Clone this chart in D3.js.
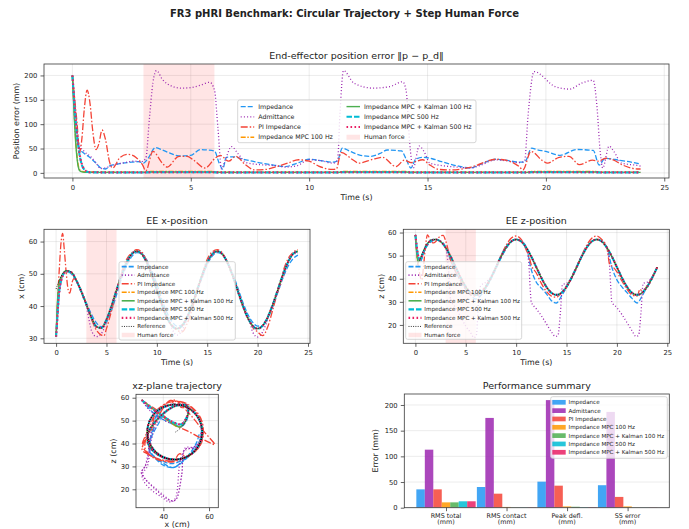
<!DOCTYPE html>
<html>
<head>
<meta charset="utf-8">
<script src="https://cdn.jsdelivr.net/npm/d3@7"></script>
<style>
  body { margin: 0; background: #fff; }
  text { font-family: "DejaVu Sans", sans-serif; fill: #222; }
</style>
</head>
<body>
<svg id="fig" width="689" height="529"></svg>
<script>
// ---------------- data ----------------
const controllers = ['Impedance', 'Admittance', 'PI Impedance', 'Impedance MPC 100 Hz',
  'Impedance MPC + Kalman 100 Hz', 'Impedance MPC 500 Hz', 'Impedance MPC + Kalman 500 Hz'];
const colors = ['#2196F3', '#9C27B0', '#F44336', '#FF9800', '#4CAF50', '#00BCD4', '#E91E63'];
const forceWindow = [3, 6];

// position error ||p - p_d|| (mm): [t, err]
const errImpedance = [[0,200],[0.05,150],[0.1,100],[0.2,65],[0.3,50],[0.5,40],[0.7,33],[1.0,20],[1.2,10],[1.4,8],[1.6,15],[2.0,19],[2.5,22],[2.8,23],[3.0,20],[3.2,30],[3.5,52],[3.8,47],[4.1,41],[4.5,35],[5.0,36],[5.4,48],[5.7,47],[6.0,45],[6.2,20],[6.35,8],[6.5,32],[6.8,33],[7.2,28],[7.6,24],[8.0,20],[8.5,16],[9.0,13],[9.5,20],[10.0,28],[10.5,25],[11.0,22],[11.2,25],[11.4,51],[11.7,45],[12.1,37],[12.6,34],[13.0,40],[13.3,47],[13.9,45],[14.1,28],[14.3,10],[14.5,28],[14.8,32],[15.2,29],[15.6,23],[16.2,15],[16.8,10],[17.2,17],[17.9,28],[18.3,26],[18.9,22],[19.1,22],[19.4,51],[19.6,48],[20.0,44],[20.6,36],[21.3,48],[22.0,46],[22.25,16],[22.5,30],[23.1,26],[23.6,22],[24,18]];
const errAdmittance = [[0,200],[0.1,130],[0.2,82],[0.3,58],[0.5,44],[0.8,32],[1.0,20],[1.2,9],[1.5,12],[1.8,17],[2.2,21],[2.6,24],[2.9,23],[3.1,30],[3.25,110],[3.4,185],[3.55,210],[3.8,192],[4.2,178],[4.6,174],[5.0,175],[5.4,180],[5.8,186],[6.0,170],[6.15,90],[6.3,8],[6.45,25],[6.72,54],[7.0,39],[7.35,21],[7.9,17],[8.5,15],[9.0,12],[9.5,15],[10.0,27],[10.5,25],[11.0,20],[11.2,26],[11.3,120],[11.45,210],[11.9,184],[12.7,174],[13.4,177],[13.95,187],[14.1,168],[14.25,60],[14.4,10],[14.65,55],[14.85,44],[15.1,20],[15.6,15],[16.2,12],[16.8,10],[17.2,15],[17.9,27],[18.3,25],[18.9,21],[19.1,25],[19.25,120],[19.5,208],[20.4,177],[21.0,172],[21.5,184],[22.0,190],[22.15,140],[22.3,40],[22.4,10],[22.67,55],[22.87,44],[23.2,20],[23.9,15],[24,14]];
const errPI = [[0,200],[0.1,150],[0.2,100],[0.3,42],[0.4,70],[0.5,130],[0.62,170],[0.75,140],[0.85,90],[1.0,48],[1.12,60],[1.25,88],[1.4,68],[1.57,22],[1.7,10],[2.0,31],[2.35,38],[2.7,31],[2.97,16],[3.1,4],[3.4,44],[3.8,20],[4.0,12],[4.5,34],[4.85,34],[5.1,27],[5.6,10],[6.05,31],[6.25,36],[6.6,24],[6.9,34],[7.3,17],[7.7,6],[8.15,7],[8.7,14],[9.1,20],[9.55,27],[10.0,24],[10.4,14],[11.0,7],[11.15,8],[11.35,42],[11.84,27],[12.1,20],[12.7,28],[13.1,32],[13.67,13],[14.02,26],[14.3,21],[14.8,27],[15.07,17],[15.5,7],[16.0,6],[16.85,12],[17.89,28],[18.3,26],[18.87,13],[19.03,6],[19.37,44],[19.86,25],[20.07,20],[20.56,32],[20.98,34],[21.41,17],[21.97,26],[22.2,24],[22.53,30],[22.87,26],[23.2,17],[23.94,8],[24,8]];
const errMPC100 = [[0,200],[0.05,150],[0.1,100],[0.15,60],[0.2,32],[0.25,15],[0.3,7],[0.4,3],[0.6,1.8],[3.0,1.5],[3.3,2.8],[5.9,2.8],[6.2,1.5],[11.2,1.5],[11.4,2.8],[14.1,2.8],[14.3,1.5],[19.2,1.5],[19.4,2.8],[22.1,2.8],[22.3,1.5],[24,1.5]];
const errK100 = [[0,200],[0.05,145],[0.1,95],[0.15,55],[0.2,28],[0.25,12],[0.3,5],[0.4,2],[0.6,1],[3.0,1],[3.3,1.8],[5.9,1.8],[6.2,1],[11.2,1],[11.4,1.8],[14.1,1.8],[14.3,1],[19.2,1],[19.4,1.8],[22.1,1.8],[22.3,1],[24,1]];
const errMPC500 = [[0,200],[0.05,165],[0.1,130],[0.2,75],[0.3,38],[0.4,16],[0.5,7],[0.6,3],[0.8,1],[3.0,0.8],[3.3,1.3],[5.9,1.3],[6.2,0.8],[11.2,0.8],[11.4,1.3],[14.1,1.3],[14.3,0.8],[19.2,0.8],[19.4,1.3],[22.1,1.3],[22.3,0.8],[24,0.8]];
const errK500 = [[0,200],[0.05,168],[0.1,135],[0.2,80],[0.3,40],[0.4,18],[0.5,8],[0.6,3.5],[0.8,1.2],[3.0,1],[3.3,1.4],[5.9,1.4],[6.2,1],[11.2,1],[11.4,1.4],[14.1,1.4],[14.3,1],[19.2,1],[19.4,1.4],[22.1,1.4],[22.3,1],[24,1]];

// end-effector position (cm): [t, x, z]
const posImpedance = [[0,30.5,59],[0.1,35,54],[0.2,40,50.5],[0.3,44,48.5],[0.5,48,47.5],[0.75,50.2,50],[1,50.8,53],[1.5,50.0,55.8],[2,47.8,56.8],[2.5,44.5,56.3],[3,41,53.8],[3.5,37.5,48],[4,34.8,43],[4.5,33.6,39],[5,35,35.5],[5.5,38.6,32.8],[6,43.5,31.2],[6.5,48.5,32.8],[7,52.5,35.8],[7.5,55.3,39.8],[8,56.6,44.3],[8.5,56.3,49],[9,54.3,53],[9.5,51,55.8],[10,46.8,57],[10.5,42,56.3],[11,38,53.8],[11.5,35.2,44],[12,33.8,38.5],[12.5,34.2,36],[13,36.5,33.5],[13.5,40,30.5],[14,44.5,29.5],[14.5,49,32.5],[15,52.8,36.3],[15.5,55.5,40.2],[16,56.6,44.8],[16.5,56,49.4],[17,53.8,53.3],[17.5,50.3,56],[18,46,57],[18.5,41.5,56.2],[19,37.6,53.6],[19.5,35,45],[20,33.8,39.5],[20.5,34,36.5],[21,36.2,34],[21.5,39.8,31.5],[22,44.2,29.5],[22.5,48.6,32.5],[23,52.2,36.5],[23.5,54.6,40.5],[24,55.8,44.5]];
const posAdmittance = [[0,30.5,59],[0.1,34,54.5],[0.2,39,51],[0.3,43,49],[0.5,47.5,48.5],[0.75,50,51],[1,51,53.5],[1.5,50.5,56.2],[2,48,57],[2.5,44.5,56.1],[3,40,53.5],[3.25,36,46],[3.5,32.5,31],[4,30.5,27.5],[4.5,31.5,23.5],[5,35,19.5],[5.5,39.5,16.5],[5.8,42.5,14.5],[6.05,45,15.5],[6.3,47.5,33],[6.5,49.5,37],[7,53.5,38.5],[7.5,56,41],[8,57,45],[8.5,56.2,49.6],[9,53.6,53.5],[9.5,49.7,56.1],[10,45,57],[10.5,40.4,56.1],[11,36.5,53.5],[11.25,35,47],[11.5,33,30],[12,31,27],[12.5,32.5,24],[13,36,20.5],[13.5,40,17],[13.9,43.5,15],[14.15,45.5,15.5],[14.4,48,26],[14.6,49.5,37.5],[15,53.5,38],[15.5,56.1,40.6],[16,57,45],[16.5,56.1,49.6],[17,53.5,53.5],[17.5,49.6,56.1],[18,45,57],[18.5,40.4,56.1],[19,36.5,53.5],[19.25,35,47],[19.5,32,30],[20,30.4,27.5],[20.5,32,24.5],[21,35.8,21],[21.5,40,17.5],[21.9,43.5,15],[22.15,45.5,15.5],[22.4,48,26],[22.6,49.5,38],[23,53.4,38.5],[23.5,56,41],[24,56.5,45]];
const posPI = [[0,30.5,59],[0.1,38,54],[0.2,45,48],[0.3,50.5,45.5],[0.5,60,40.5],[0.65,62.5,39.5],[0.8,58,45],[1,50.5,54],[1.2,45,59],[1.35,44,58],[1.6,47.5,56],[1.8,48.6,55.5],[2,47.8,56],[2.3,46.2,57.8],[2.5,45,58.5],[2.75,43,58.8],[3,40.5,56.5],[3.5,36,48],[4,32.5,43],[4.5,31,39],[4.75,30.8,37],[5,33,35.5],[5.5,38.5,33],[6,44.8,32.5],[6.5,50.5,34.5],[7,54.5,37],[7.5,56.5,40.5],[8,57.5,45],[8.5,56.8,50],[9,54,54.5],[9.5,50,57.5],[10,45.2,58.5],[10.5,40.5,57],[11,36.5,52.5],[11.25,35,50],[11.5,34,46],[12,32.5,42.5],[12.5,32,38],[13,34.5,34.5],[13.5,39,32.5],[14,44.5,32],[14.5,49.8,34],[15,54.5,37],[15.5,56.8,40.5],[16,57.5,45],[16.5,56.5,50],[17,53.5,54.5],[17.5,49.5,57.5],[18,45,58.5],[18.5,40.3,57],[19,36.4,53.5],[19.3,35,46],[19.5,33.5,45.5],[20,32,43],[20.5,30.8,39],[21,33.5,35.5],[21.5,38.8,33],[22,44.5,32.5],[22.3,47,35.5],[22.5,50.2,34.5],[23,54.5,37],[23.5,56.6,40.5],[24,57.5,45]];
const posMPC100 = [[0,30.5,59],[0.1,38,53],[0.2,43.5,49],[0.3,46.5,47.3],[0.5,48.8,48.5],[0.75,50.2,51.2],[1,50.9,53.6],[1.5,50.5,56.4],[2,48,57],[2.5,44.5,56.1],[3,40.5,53.5],[3.5,36.5,49.6],[4,33.6,45],[4.5,33.2,40.4],[5,35.8,36.5],[5.5,40,33.9],[6,45,33],[6.5,49.6,33.9],[7,53.5,36.5],[7.5,56.1,40.4],[8,57,45],[8.5,56.1,49.6],[9,53.5,53.5],[9.5,49.6,56.1],[10,45,57],[10.5,40.4,56.1],[11,36.5,53.5],[11.5,33.9,49.6],[12,33,45],[12.5,33.9,40.4],[13,36.5,36.5],[13.5,40.4,33.9],[14,45,33],[14.5,49.6,33.9],[15,53.5,36.5],[15.5,56.1,40.4],[16,57,45],[16.5,56.1,49.6],[17,53.5,53.5],[17.5,49.6,56.1],[18,45,57],[18.5,40.4,56.1],[19,36.5,53.5],[19.5,33.9,49.6],[20,33,45],[20.5,33.9,40.4],[21,36.5,36.5],[21.5,40.4,33.9],[22,45,33],[22.5,49.6,33.9],[23,53.5,36.5],[23.5,56.1,40.4],[24,57,45]];
const posK100 = [[0,30.5,59],[0.1,39,52.5],[0.2,44.5,48.5],[0.3,47,47.2],[0.5,49,48.7],[0.75,50.4,51.4],[1,51,53.8],[1.5,50.5,56.5],[2,48,57],[2.5,44.5,56.1],[3,40.5,53.5],[3.5,36.5,49.6],[4,33.6,45],[4.5,33.2,40.4],[5,35.8,36.5],[5.5,40,33.9],[6,45,33],[6.5,49.6,33.9],[7,53.5,36.5],[7.5,56.1,40.4],[8,57,45],[8.5,56.1,49.6],[9,53.5,53.5],[9.5,49.6,56.1],[10,45,57],[10.5,40.4,56.1],[11,36.5,53.5],[11.5,33.9,49.6],[12,33,45],[12.5,33.9,40.4],[13,36.5,36.5],[13.5,40.4,33.9],[14,45,33],[14.5,49.6,33.9],[15,53.5,36.5],[15.5,56.1,40.4],[16,57,45],[16.5,56.1,49.6],[17,53.5,53.5],[17.5,49.6,56.1],[18,45,57],[18.5,40.4,56.1],[19,36.5,53.5],[19.5,33.9,49.6],[20,33,45],[20.5,33.9,40.4],[21,36.5,36.5],[21.5,40.4,33.9],[22,45,33],[22.5,49.6,33.9],[23,53.5,36.5],[23.5,56.1,40.4],[24,57,45]];
const posMPC500 = [[0,30.5,59],[0.1,35.5,55],[0.2,40.5,51.5],[0.3,44.2,49.3],[0.5,48,48.4],[0.75,50,51],[1,50.8,53.5],[1.5,50.5,56.4],[2,48,57],[2.5,44.5,56.1],[3,40.5,53.5],[3.5,36.5,49.6],[4,33.6,45],[4.5,33.2,40.4],[5,35.8,36.5],[5.5,40,33.9],[6,45,33],[6.5,49.6,33.9],[7,53.5,36.5],[7.5,56.1,40.4],[8,57,45],[8.5,56.1,49.6],[9,53.5,53.5],[9.5,49.6,56.1],[10,45,57],[10.5,40.4,56.1],[11,36.5,53.5],[11.5,33.9,49.6],[12,33,45],[12.5,33.9,40.4],[13,36.5,36.5],[13.5,40.4,33.9],[14,45,33],[14.5,49.6,33.9],[15,53.5,36.5],[15.5,56.1,40.4],[16,57,45],[16.5,56.1,49.6],[17,53.5,53.5],[17.5,49.6,56.1],[18,45,57],[18.5,40.4,56.1],[19,36.5,53.5],[19.5,33.9,49.6],[20,33,45],[20.5,33.9,40.4],[21,36.5,36.5],[21.5,40.4,33.9],[22,45,33],[22.5,49.6,33.9],[23,53.5,36.5],[23.5,56.1,40.4],[24,57,45]];
const posK500 = [[0,30.5,59],[0.1,35,55.3],[0.2,40,51.8],[0.3,44,49.5],[0.5,47.8,48.5],[0.75,50,51],[1,50.8,53.5],[1.5,50.5,56.4],[2,48,57],[2.5,44.5,56.1],[3,40.5,53.5],[3.5,36.5,49.6],[4,33.6,45],[4.5,33.2,40.4],[5,35.8,36.5],[5.5,40,33.9],[6,45,33],[6.5,49.6,33.9],[7,53.5,36.5],[7.5,56.1,40.4],[8,57,45],[8.5,56.1,49.6],[9,53.5,53.5],[9.5,49.6,56.1],[10,45,57],[10.5,40.4,56.1],[11,36.5,53.5],[11.5,33.9,49.6],[12,33,45],[12.5,33.9,40.4],[13,36.5,36.5],[13.5,40.4,33.9],[14,45,33],[14.5,49.6,33.9],[15,53.5,36.5],[15.5,56.1,40.4],[16,57,45],[16.5,56.1,49.6],[17,53.5,53.5],[17.5,49.6,56.1],[18,45,57],[18.5,40.4,56.1],[19,36.5,53.5],[19.5,33.9,49.6],[20,33,45],[20.5,33.9,40.4],[21,36.5,36.5],[21.5,40.4,33.9],[22,45,33],[22.5,49.6,33.9],[23,53.5,36.5],[23.5,56.1,40.4],[24,57,45]];
const posReference = [[0,45.3,45],[0.1,46.2,45.6],[0.2,47,46.3],[0.3,47.8,47],[0.5,49.2,48.8],[0.75,50.4,51.5],[1,51,53.8],[1.5,50.5,56.5],[2,48,57],[2.5,44.5,56.1],[3,40.5,53.5],[3.5,36.5,49.6],[4,33.6,45],[4.5,33.2,40.4],[5,35.8,36.5],[5.5,40,33.9],[6,45,33],[6.5,49.6,33.9],[7,53.5,36.5],[7.5,56.1,40.4],[8,57,45],[8.5,56.1,49.6],[9,53.5,53.5],[9.5,49.6,56.1],[10,45,57],[10.5,40.4,56.1],[11,36.5,53.5],[11.5,33.9,49.6],[12,33,45],[12.5,33.9,40.4],[13,36.5,36.5],[13.5,40.4,33.9],[14,45,33],[14.5,49.6,33.9],[15,53.5,36.5],[15.5,56.1,40.4],[16,57,45],[16.5,56.1,49.6],[17,53.5,53.5],[17.5,49.6,56.1],[18,45,57],[18.5,40.4,56.1],[19,36.5,53.5],[19.5,33.9,49.6],[20,33,45],[20.5,33.9,40.4],[21,36.5,36.5],[21.5,40.4,33.9],[22,45,33],[22.5,49.6,33.9],[23,53.5,36.5],[23.5,56.1,40.4],[24,57,45]];

// performance summary (mm), one array per controller, in metric order
const metrics = ['RMS total\n(mm)', 'RMS contact\n(mm)', 'Peak defl.\n(mm)', 'SS error\n(mm)'];
const barImpedance = [35.7, 40.3, 50.7, 43.8];
const barAdmittance = [113, 174.8, 209.5, 186.5];
const barPI = [35.7, 27.3, 42.9, 21];
const barMPC100 = [10.4, 1.5, 2.5, 2.5];
const barK100 = [10.4, 0.5, 1.8, 0.3];
const barMPC500 = [12.5, 0.5, 0.8, 0.3];
const barK500 = [12.5, 0.5, 0.8, 0.3];

// ---------------- styles ----------------
const dashes = ['5,2', '1,2.2', '7,2,1.5,2', '5,1.6,1.5,1.6', null, '5.5,2', '1.6,2.4'];
const widths = [1.3, 1.3, 1.3, 1.4, 1.4, 2.1, 2.1];
const errSeries = [errImpedance, errAdmittance, errPI, errMPC100, errK100, errMPC500, errK500];
const posSeries = [posImpedance, posAdmittance, posPI, posMPC100, posK100, posMPC500, posK500];
const barSeries = [barImpedance, barAdmittance, barPI, barMPC100, barK100, barMPC500, barK500];

const svg = d3.select('#fig');
let clipCount = 0;

function makePanel(o) {
  const x = d3.scaleLinear().domain(o.xd).range([o.l, o.r]);
  const y = d3.scaleLinear().domain(o.yd).range([o.b, o.t]);
  const g = svg.append('g');
  const clipId = 'clip' + (clipCount++);
  g.append('clipPath').attr('id', clipId).append('rect')
    .attr('x', o.l).attr('y', o.t).attr('width', o.r - o.l).attr('height', o.b - o.t);
  const grid = g.append('g');
  if (o.gridX !== false) {
    o.xticks.forEach(v => grid.append('line').attr('x1', x(v)).attr('x2', x(v)).attr('y1', o.t).attr('y2', o.b));
  }
  o.yticks.forEach(v => grid.append('line').attr('x1', o.l).attr('x2', o.r).attr('y1', y(v)).attr('y2', y(v)));
  grid.selectAll('line').attr('stroke', '#b0b0b0').attr('stroke-opacity', 0.3).attr('stroke-width', 0.8);
  const plot = g.append('g').attr('clip-path', `url(#${clipId})`);
  return { x, y, g, plot, o };
}

function finishPanel(p) {
  const { x, y, g, o } = p;
  g.append('rect').attr('x', o.l).attr('y', o.t).attr('width', o.r - o.l).attr('height', o.b - o.t)
    .attr('fill', 'none').attr('stroke', '#3a3a3a').attr('stroke-width', 0.8);
  const xa = g.append('g').attr('transform', `translate(0,${o.b})`)
    .call(d3.axisBottom(x).tickValues(o.xticks).tickSize(3.5).tickPadding(3.2).tickFormat(o.xfmt || d3.format('d')));
  const ya = g.append('g').attr('transform', `translate(${o.l},0)`)
    .call(d3.axisLeft(y).tickValues(o.yticks).tickSize(3.5).tickPadding(3.2).tickFormat(d3.format('d')));
  [xa, ya].forEach(a => {
    a.select('.domain').remove();
    a.selectAll('line').attr('stroke', '#3a3a3a').attr('stroke-width', 0.8);
    a.selectAll('text').attr('font-size', 6.8).attr('font-family', '"DejaVu Sans", sans-serif').attr('fill', '#222');
  });
  g.append('text').attr('x', (o.l + o.r) / 2).attr('y', o.t - 5).attr('text-anchor', 'middle')
    .attr('font-size', 9.5).text(o.title);
  if (o.xlabel) {
    g.append('text').attr('x', (o.l + o.r) / 2).attr('y', o.xlabelY || o.b + 22).attr('text-anchor', 'middle')
      .attr('font-size', 7.9).text(o.xlabel);
  }
  g.append('text').attr('transform', `translate(${o.ylabelX},${(o.t + o.b) / 2}) rotate(-90)`)
    .attr('text-anchor', 'middle').attr('dy', '0.35em').attr('font-size', 7.9).text(o.ylabel);
  return xa;
}

function styleLine(sel, i) {
  sel.attr('fill', 'none').attr('stroke', colors[i]).attr('stroke-width', widths[i])
    .attr('stroke-dasharray', dashes[i]).attr('stroke-linejoin', 'round');
}

function drawLegend(items, o) {
  const lg = svg.append('g');
  lg.append('rect').attr('x', o.x).attr('y', o.y).attr('width', o.w).attr('height', o.h).attr('rx', 2)
    .attr('fill', '#fff').attr('fill-opacity', 0.8).attr('stroke', '#cccccc').attr('stroke-width', 0.8);
  items.forEach((it, i) => {
    const col = Math.floor(i / o.rows), row = i % o.rows;
    const hx = o.colX[col], cy = o.firstY + row * o.rowH;
    if (it.patch) {
      lg.append('rect').attr('x', hx).attr('y', cy - o.patchH / 2).attr('width', o.handleLen).attr('height', o.patchH)
        .attr('fill', it.color).attr('fill-opacity', it.opacity);
    } else {
      lg.append('line').attr('x1', hx).attr('x2', hx + o.handleLen).attr('y1', cy).attr('y2', cy)
        .attr('stroke', it.color).attr('stroke-width', it.width).attr('stroke-dasharray', it.dash);
    }
    lg.append('text').attr('x', hx + o.handleLen + o.gap).attr('y', cy).attr('dy', '0.35em')
      .attr('font-size', o.fs).text(it.label);
  });
}

const lineItems = controllers.map((c, i) => ({ label: c, color: colors[i], dash: dashes[i], width: widths[i] }));
const forceItem = { label: 'Human force', patch: true, color: '#ff0000', opacity: 0.1 };
const refItem = { label: 'Reference', color: '#000', dash: '1,1.3', width: 0.8 };

// suptitle
svg.append('text').attr('x', 344.5).attr('y', 17).attr('text-anchor', 'middle')
  .attr('font-size', 10).attr('font-weight', 'bold').text('FR3 pHRI Benchmark: Circular Trajectory + Step Human Force');

// ---------------- panel 1: position error ----------------
const p1 = makePanel({ l: 44, r: 669, t: 64, b: 178, xd: [-1.2, 25.2], yd: [-10.5, 223.5],
  xticks: [0, 5, 10, 15, 20, 25], yticks: [0, 50, 100, 150, 200],
  title: 'End-effector position error \u2016p \u2212 p_d\u2016', xlabel: 'Time (s)', ylabel: 'Position error (mm)', ylabelX: 16.5 });
p1.plot.append('rect').attr('x', p1.x(forceWindow[0])).attr('width', p1.x(forceWindow[1]) - p1.x(forceWindow[0]))
  .attr('y', p1.o.t).attr('height', p1.o.b - p1.o.t).attr('fill', '#ff0000').attr('fill-opacity', 0.1);
const errLine = d3.line().x(d => p1.x(d[0])).y(d => p1.y(d[1])).curve(d3.curveMonotoneX);
errSeries.forEach((s, i) => styleLine(p1.plot.append('path').attr('d', errLine(s)), i));
finishPanel(p1);
drawLegend(lineItems.concat([forceItem]), { x: 237.7, y: 100, w: 238.3, h: 42.7, rows: 4, colX: [240.7, 346.5],
  handleLen: 13.5, gap: 4, firstY: 106.6, rowH: 10.2, fs: 6.3, patchH: 5 });

// ---------------- panels 2 & 3: x and z position ----------------
function posPanel(o, k) {
  const p = makePanel(o);
  p.plot.append('rect').attr('x', p.x(forceWindow[0])).attr('width', p.x(forceWindow[1]) - p.x(forceWindow[0]))
    .attr('y', o.t).attr('height', o.b - o.t).attr('fill', '#ff0000').attr('fill-opacity', 0.1);
  const line = d3.line().x(d => p.x(d[0])).y(d => p.y(d[k])).curve(d3.curveMonotoneX);
  posSeries.forEach((s, i) => styleLine(p.plot.append('path').attr('d', line(s)), i));
  p.plot.append('path').attr('d', line(posReference)).attr('fill', 'none').attr('stroke', '#000')
    .attr('stroke-width', 0.8).attr('stroke-dasharray', '1,1.3');
  finishPanel(p);
  return p;
}
posPanel({ l: 44, r: 310, t: 229.3, b: 343.3, xd: [-1.2, 25.2], yd: [28.45, 63.8],
  xticks: [0, 5, 10, 15, 20, 25], yticks: [30, 40, 50, 60],
  title: 'EE x-position', xlabel: 'Time (s)', ylabel: 'x (cm)', ylabelX: 21.7 }, 1);
posPanel({ l: 403.3, r: 669.3, t: 229.3, b: 343.3, xd: [-1.2, 25.2], yd: [12.05, 61.4],
  xticks: [0, 5, 10, 15, 20, 25], yticks: [20, 30, 40, 50, 60],
  title: 'EE z-position', xlabel: 'Time (s)', ylabel: 'z (cm)', ylabelX: 381.7 }, 2);
const midItems = lineItems.map((d, i) => Object.assign({}, d, { width: i >= 5 ? 2.4 : 1.6 }))
  .concat([refItem, forceItem]);
drawLegend(midItems, { x: 119, y: 261.7, w: 116.3, h: 78.3, rows: 9, colX: [121.7], handleLen: 13,
  gap: 2.6, firstY: 266.6, rowH: 8.55, fs: 5.6, patchH: 4.5 });
drawLegend(midItems, { x: 405.7, y: 261.7, w: 116, h: 77.6, rows: 9, colX: [408.5], handleLen: 13,
  gap: 2.8, firstY: 266.6, rowH: 8.55, fs: 5.6, patchH: 4.5 });

// ---------------- panel 4: xz-plane ----------------
const p4 = makePanel({ l: 136, r: 218.3, t: 394.3, b: 507.7, xd: [28.05, 64.05], yd: [11.96, 61.5],
  xticks: [40, 60], yticks: [20, 30, 40, 50, 60],
  title: 'xz-plane trajectory', xlabel: 'x (cm)', xlabelY: 526.5, ylabel: 'z (cm)', ylabelX: 113.7 });
const xzLine = d3.line().x(d => p4.x(d[1])).y(d => p4.y(d[2])).curve(d3.curveCatmullRom);
posSeries.forEach((s, i) => styleLine(p4.plot.append('path').attr('d', xzLine(s)), i));
p4.plot.append('path').attr('d', xzLine(posReference)).attr('fill', 'none').attr('stroke', '#000')
  .attr('stroke-width', 0.8).attr('stroke-dasharray', '1,1.3');
finishPanel(p4);

// ---------------- panel 5: performance summary ----------------
const barW = 0.14;
const p5 = makePanel({ l: 404.3, r: 669.3, t: 394, b: 507.7, xd: [-0.689, 3.689], yd: [0, 221.4],
  xticks: [0, 1, 2, 3], yticks: [0, 50, 100, 150, 200], gridX: false,
  title: 'Performance summary', ylabel: 'Error (mm)', ylabelX: 375, xfmt: () => '' });
barSeries.forEach((vals, j) => {
  p5.plot.selectAll(null).data(vals).enter().append('rect')
    .attr('x', (d, i) => p5.x(i + (j - 3) * barW - barW / 2))
    .attr('width', p5.x(barW) - p5.x(0))
    .attr('y', d => p5.y(d)).attr('height', d => p5.y(0) - p5.y(d))
    .attr('fill', colors[j]).attr('fill-opacity', 0.85);
});
finishPanel(p5);
metrics.forEach((m, i) => {
  const t = svg.append('text').attr('x', p5.x(i)).attr('y', 517.6).attr('text-anchor', 'middle').attr('font-size', 6.4);
  m.split('\n').forEach((ln, k) => t.append('tspan').attr('x', p5.x(i)).attr('dy', k ? 6.8 : 0).text(ln));
});
drawLegend(controllers.map((c, i) => ({ label: c, patch: true, color: colors[i], opacity: 0.85 })),
  { x: 550.7, y: 396.7, w: 116.6, h: 61.6, rows: 7, colX: [552.3], handleLen: 13.4, gap: 2.8,
    firstY: 402.3, rowH: 8.33, fs: 5.6, patchH: 4.7 });
</script>
</body>
</html>
